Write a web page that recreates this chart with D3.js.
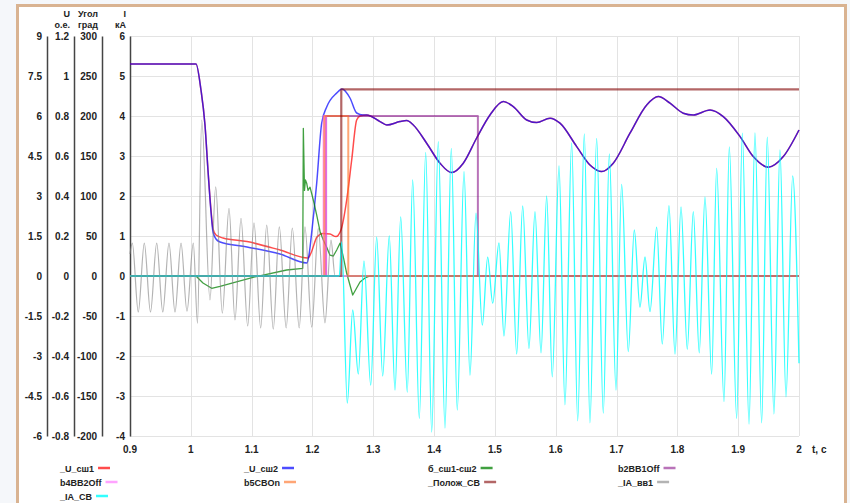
<!DOCTYPE html>
<html>
<head>
<meta charset="utf-8">
<script src="https://cdn.jsdelivr.net/npm/d3@7"></script>
<style>
  html, body { margin: 0; padding: 0; background: #f5f7fa; }
  svg { display: block; font-family: "Liberation Sans", Arial, sans-serif; }
</style>
</head>
<body>
<svg id="chart" width="850" height="503"></svg>
<script>
// ========= DATA =========
// time, s
const xTicks = [0.9, 1, 1.1, 1.2, 1.3, 1.4, 1.5, 1.6, 1.7, 1.8, 1.9, 2];

// _U_сш1 / _U_сш2, о.е. (before both curves join)
const uSh1Head = [
  [0.9, 1.06], [1.0085, 1.06], [1.0167, 0.93], [1.0233, 0.755], [1.0282, 0.53],
  [1.0332, 0.33], [1.0365, 0.235], [1.0414, 0.205], [1.0529, 0.19], [1.0924, 0.172],
  [1.1466, 0.13], [1.1927, 0.09], [1.1976, 0.115], [1.2075, 0.195], [1.2173, 0.213],
  [1.2288, 0.21], [1.2387, 0.197], [1.2469, 0.23], [1.2563, 0.38], [1.2645, 0.58],
  [1.2727, 0.78], [1.2782, 0.8]
];
const uSh2Head = [
  [0.9, 1.06], [1.0085, 1.06], [1.0167, 0.93], [1.0233, 0.755], [1.0282, 0.53],
  [1.0332, 0.32], [1.0365, 0.22], [1.0414, 0.185], [1.048, 0.17], [1.0924, 0.145],
  [1.1466, 0.11], [1.191, 0.065], [1.1943, 0.105], [1.1992, 0.23], [1.207, 0.465],
  [1.2152, 0.765], [1.2234, 0.845], [1.2399, 0.915], [1.2486, 0.935], [1.2617, 0.89],
  [1.2727, 0.815], [1.2831, 0.805]
];
// common part of both voltages
const uTail = [
  [1.2892, 0.805], [1.3111, 0.772], [1.3221, 0.755], [1.3439, 0.772], [1.355, 0.777],
  [1.3658, 0.755], [1.3878, 0.664], [1.4097, 0.564], [1.4289, 0.517], [1.448, 0.564],
  [1.47, 0.69], [1.4919, 0.805], [1.5138, 0.872], [1.5302, 0.847], [1.5523, 0.78],
  [1.5687, 0.767], [1.5906, 0.789], [1.607, 0.764], [1.6345, 0.647], [1.6563, 0.555],
  [1.6756, 0.522], [1.6946, 0.564], [1.7221, 0.714], [1.7496, 0.855], [1.7686, 0.897],
  [1.7879, 0.864], [1.8097, 0.814], [1.8262, 0.805], [1.8537, 0.83], [1.8755, 0.797],
  [1.9031, 0.697], [1.9248, 0.597], [1.9495, 0.544], [1.9742, 0.597], [2.0, 0.73]
];

// б_сш1-сш2, град
const angle = [
  [0.9, 0], [1.0085, 0], [1.02, -8.75], [1.0343, -15.4], [1.048, -13], [1.1022, -1.6],
  [1.1576, 7.5], [1.184, 9.6], [1.185, 184.6], [1.1869, 107], [1.1885, 120], [1.1905, 116],
  [1.1927, 107], [1.196, 111], [1.2014, 95], [1.207, 76], [1.2124, 56], [1.2178, 45],
  [1.2234, 36], [1.2288, 26], [1.2343, 25], [1.2399, 32.5], [1.2453, 41], [1.2507, 24],
  [1.2563, 3.4], [1.2662, -23.75], [1.2782, -7.5], [1.2864, -2.5], [1.2946, 0], [2.0, 0]
];

// logic signals (left scale 9..-6)
const b2BB1Off = [[0.9, 0], [1.2224, 6], [1.472, 0], [2.0, 0]];
const b4BB2Off = [[0.9, 0], [1.2183, 6], [1.2224, 0], [2.0, 0]];
const b5CBOn   = [[0.9, 0], [1.2195, 6], [1.2589, 0], [2.0, 0]];
const polozhCB = [[0.9, 0], [1.2474, 7], [2.0, 7]];

// _IA_вв1, кА (peaks and troughs)
const iaVv1 = [
  [0.9, 0.55], [0.9038, 0.82], [0.9136, -0.9], [0.9235, 0.82], [0.9337, -0.9], [0.9439, 0.82],
  [0.9539, -0.9], [0.9641, 0.82], [0.974, -0.9], [0.9839, 0.82], [0.9937, -0.88], [1.0041, 0.82],
  [1.011, -1.18], [1.0179, 3.9], [1.0315, -0.6], [1.0409, 2.23], [1.0518, -0.93], [1.0628, 1.69],
  [1.0726, -1.1], [1.0825, 1.44], [1.0935, -1.25], [1.1039, 1.33], [1.1149, -1.3], [1.1248, 1.27],
  [1.1356, -1.33], [1.1455, 1.23], [1.1568, -1.3], [1.1669, 1.2], [1.1782, -1.3], [1.1877, 1.23],
  [1.1988, -1.28], [1.2096, 1.19], [1.2206, -1.17], [1.2305, 0.9], [1.2371, 0], [2.0, 0]
];

// _IA_СВ, кА (peaks and troughs)
const iaCB = [
  [0.9, 0], [1.2441, 0], [1.2481, 0.86], [1.2573, -3.18], [1.2662, -0.85], [1.2754, -2.45],
  [1.2847, 0.38], [1.2958, -2.73], [1.3056, 0.97], [1.3155, -2.5], [1.3263, 1.0], [1.3357, -2.85],
  [1.3451, 1.48], [1.3559, -2.9], [1.3648, 2.4], [1.3757, -3.56], [1.3862, 3.09], [1.3961, -3.9],
  [1.4069, 3.36], [1.4179, -3.8], [1.4283, 3.19], [1.4381, -3.35], [1.4492, 2.61], [1.459, -2.48],
  [1.4689, 1.57], [1.4793, -1.23], [1.4881, 0.47], [1.4964, -0.68], [1.5067, 0.83], [1.5149, -1.5],
  [1.526, 1.61], [1.5358, -1.95], [1.5457, 1.75], [1.556, -1.81], [1.5659, 1.61], [1.5758, -1.92],
  [1.5851, 2.0], [1.5943, -2.52], [1.6054, 2.75], [1.6152, -3.22], [1.6262, 3.33], [1.6361, -3.62],
  [1.647, 3.55], [1.6563, -3.67], [1.6673, 3.44], [1.6782, -3.43], [1.6881, 3.05], [1.6991, -2.85],
  [1.7084, 2.29], [1.7193, -1.89], [1.7292, 1.15], [1.7385, -0.78], [1.7468, 0.48], [1.755, -0.89],
  [1.766, 1.22], [1.7752, -1.7], [1.7862, 1.76], [1.7961, -1.95], [1.806, 1.73], [1.8163, -1.83],
  [1.8262, 1.61], [1.836, -1.92], [1.8454, 1.98], [1.8564, -2.45], [1.8646, 2.69], [1.8767, -3.14],
  [1.8854, 3.23], [1.8975, -3.56], [1.9068, 3.57], [1.9178, -3.7], [1.9276, 3.58], [1.9386, -3.67],
  [1.9478, 3.47], [1.9588, -3.45], [1.9687, 3.15], [1.9786, -3.02], [1.9896, 2.5], [2.0, -2.18]
];

const legendNames = ["_U_сш1", "_U_сш2", "б_сш1-сш2", "b2BB1Off", "b4BB2Off", "b5CBOn", "_Полож_СВ", "_IA_вв1", "_IA_СВ"];
const legendColors = ["#ff0000", "#0000ff", "#008000", "#800080", "#ff66ff", "#ff6a1a", "#800000", "#808080", "#00ffff"];

// ========= LAYOUT =========
const plot = { left: 130, right: 799, top: 36, bottom: 436 };

const svg = d3.select("#chart");

// рамка
svg.append("rect")
  .attr("x", 17.5).attr("y", 5.5).attr("width", 828).attr("height", 510)
  .attr("fill", "#fff").attr("stroke", "#d9b391").attr("stroke-width", 3);

const x  = d3.scaleLinear().domain([0.9, 2]).range([plot.left, plot.right]);
const yI = d3.scaleLinear().domain([-4, 6]).range([plot.bottom, plot.top]);
const yU = d3.scaleLinear().domain([-0.8, 1.2]).range([plot.bottom, plot.top]);
const yA = d3.scaleLinear().domain([-200, 300]).range([plot.bottom, plot.top]);
const yL = d3.scaleLinear().domain([-6, 9]).range([plot.bottom, plot.top]);

// grid
const grid = svg.append("g").attr("stroke", "#e3e3e3").attr("stroke-width", 1);
grid.selectAll("line.v").data(xTicks).join("line")
  .attr("x1", d => Math.round(x(d)) + 0.5).attr("x2", d => Math.round(x(d)) + 0.5)
  .attr("y1", plot.top).attr("y2", plot.bottom);
grid.selectAll("line.h").data(d3.range(-4, 7)).join("line")
  .attr("x1", plot.left).attr("x2", plot.right)
  .attr("y1", d => Math.round(yI(d)) + 0.5).attr("y2", d => Math.round(yI(d)) + 0.5);

// left axes
const fmt = d => String(+d.toFixed(2));
const axes = [
  { scale: yL, x: 47,  ticks: d3.range(-6, 9.01, 1.5) },
  { scale: yU, x: 74,  ticks: d3.range(-0.8, 1.21, 0.2) },
  { scale: yA, x: 102, ticks: d3.range(-200, 301, 50) },
  { scale: yI, x: 130, ticks: d3.range(-4, 7, 1) }
];
axes.forEach(a => {
  const g = svg.append("g").attr("transform", `translate(${a.x},0)`)
    .call(d3.axisLeft(a.scale).tickValues(a.ticks).tickFormat(fmt).tickSize(0).tickPadding(5));
  g.select(".domain").attr("stroke", "#444").attr("stroke-width", 1.5);
  g.selectAll("text").attr("font-size", 10).attr("font-weight", "bold").attr("fill", "#222")
    .attr("font-family", "Liberation Sans, Arial, sans-serif");
});

// axis headers (two lines, above the top tick labels)
const headers = [
  { x: 70, t1: "U", t2: "о.е." },
  { x: 98, t1: "Угол", t2: "град" },
  { x: 126, t1: "I", t2: "кА" }
];
headers.forEach(h => {
  svg.append("text").attr("x", h.x).attr("y", 17).attr("text-anchor", "end")
    .attr("font-size", 9).attr("font-weight", "bold").attr("fill", "#222").text(h.t1);
  svg.append("text").attr("x", h.x).attr("y", 28).attr("text-anchor", "end")
    .attr("font-size", 9).attr("font-weight", "bold").attr("fill", "#222").text(h.t2);
});

// x axis labels
svg.append("g").selectAll("text").data(xTicks).join("text")
  .attr("x", d => x(d)).attr("y", 453).attr("text-anchor", "middle")
  .attr("font-size", 10).attr("font-weight", "bold").attr("fill", "#222")
  .text(fmt);
svg.append("text").attr("x", 812).attr("y", 453)
  .attr("font-size", 10).attr("font-weight", "bold").attr("fill", "#222").text("t, c");

// ========= SERIES =========
const series = [
  { data: uSh1Head.concat(uTail), y: yU, curve: d3.curveMonotoneX },
  { data: uSh2Head.concat(uTail), y: yU, curve: d3.curveMonotoneX },
  { data: angle, y: yA, curve: d3.curveLinear },
  { data: b2BB1Off, y: yL, curve: d3.curveStepAfter },
  { data: b4BB2Off, y: yL, curve: d3.curveStepAfter },
  { data: b5CBOn, y: yL, curve: d3.curveStepAfter },
  { data: polozhCB, y: yL, curve: d3.curveStepAfter },
  { data: iaVv1, y: yI, curve: d3.curveMonotoneX },
  { data: iaCB, y: yI, curve: d3.curveMonotoneX }
];
const widths = [1.5, 1.5, 1.3, 2, 2, 2, 2.2, 1.2, 1.3];
const opac   = [0.7, 0.7, 0.75, 0.55, 0.6, 0.6, 0.6, 0.6, 0.8];

const lines = svg.append("g");
series.forEach((s, i) => {
  const line = d3.line().x(d => x(d[0])).y(d => s.y(d[1])).curve(s.curve);
  lines.append("path").datum(s.data)
    .attr("d", line)
    .attr("fill", "none")
    .attr("stroke", legendColors[i])
    .attr("stroke-width", widths[i])
    .attr("stroke-opacity", opac[i])
    .attr("stroke-linejoin", "round");
});

// ========= LEGEND =========
const colX = [60, 244, 428, 618];
const rowY = [468, 482, 496];
const leg = svg.append("g");
legendNames.forEach((name, i) => {
  const gx = colX[i % 4], gy = rowY[Math.floor(i / 4)];
  const t = leg.append("text").attr("x", gx).attr("y", gy + 3.5)
    .attr("font-size", 9).attr("font-weight", "bold").attr("fill", "#222").text(name);
  const w = t.node().getComputedTextLength();
  leg.append("line")
    .attr("x1", gx + w + 4).attr("x2", gx + w + 16)
    .attr("y1", gy).attr("y2", gy)
    .attr("stroke", legendColors[i]).attr("stroke-width", 2.5)
    .attr("stroke-opacity", opac[i]);
});
</script>
</body>
</html>
